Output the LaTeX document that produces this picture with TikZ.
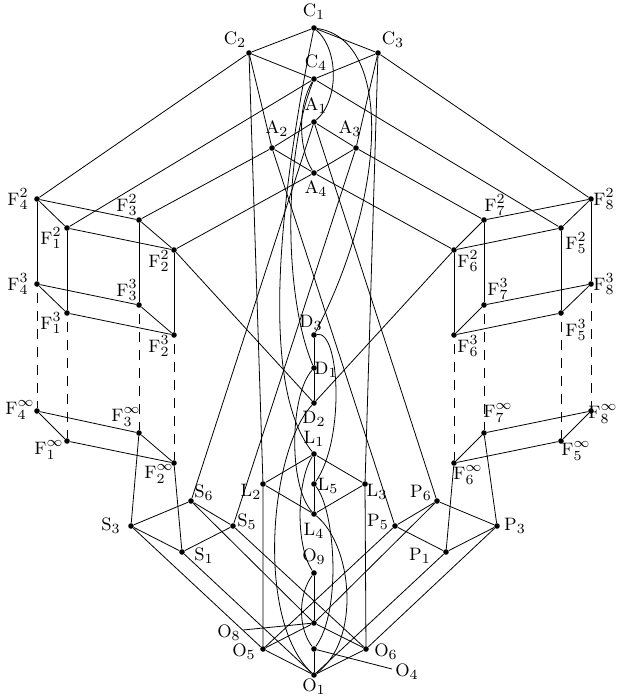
\documentclass[tikz,border=0pt]{standalone}
\begin{document}
\begin{tikzpicture}[x=0.5pt,y=-0.5pt,
  dot/.style={circle,fill,inner sep=0pt,minimum size=2.8pt},
  lbl/.style={inner sep=0pt,font=\fontsize{9.5}{11}\selectfont},
  ln/.style={line width=0.4pt},
  dsh/.style={line width=0.4pt,dash pattern=on 5pt off 4pt,dash phase=-3pt}]
\useasboundingbox (0,0) rectangle (616,696);
\newcommand\mypt[4]{\node[dot] (#1) at (#2) {}; \node[lbl] (l#1) at (#3) {#4};}
% top
\mypt{C1}{314,28}{314,12}{$\mathrm{C}_1$}
\mypt{C2}{249,53}{235,40}{$\mathrm{C}_2$}
\mypt{C3}{378,53}{393,40}{$\mathrm{C}_3$}
\mypt{C4}{314,79}{316,63}{$\mathrm{C}_4$}
\mypt{A1}{314,122}{316,106}{$\mathrm{A}_1$}
\mypt{A2}{272,148}{277,129}{$\mathrm{A}_2$}
\mypt{A3}{356,148}{350,129}{$\mathrm{A}_3$}
\mypt{A4}{314,173}{316,189}{$\mathrm{A}_4$}
% left cube
\mypt{F42}{37,199}{18,199}{$\mathrm{F}^2_4$}
\mypt{F12}{67,228}{51,238}{$\mathrm{F}^2_1$}
\mypt{F32}{139,220}{127,205}{$\mathrm{F}^2_3$}
\mypt{F22}{174,250}{159,261}{$\mathrm{F}^2_2$}
\mypt{F43}{37,284}{18,284}{$\mathrm{F}^3_4$}
\mypt{F13}{67,313}{51,323}{$\mathrm{F}^3_1$}
\mypt{F33}{139,305}{127,290}{$\mathrm{F}^3_3$}
\mypt{F23}{174,335}{159,346}{$\mathrm{F}^3_2$}
\mypt{F4i}{37,411}{20,410}{$\mathrm{F}^\infty_4$}
\mypt{F1i}{67,441}{49,450}{$\mathrm{F}^\infty_1$}
\mypt{F3i}{139,433}{126,417}{$\mathrm{F}^\infty_3$}
\mypt{F2i}{174,463}{159,474}{$\mathrm{F}^\infty_2$}
% right cube
\mypt{F82}{591,199}{604,199}{$\mathrm{F}^2_8$}
\mypt{F52}{561,228}{576,243}{$\mathrm{F}^2_5$}
\mypt{F72}{484,220}{495,205}{$\mathrm{F}^2_7$}
\mypt{F62}{454,250}{468,261}{$\mathrm{F}^2_6$}
\mypt{F83}{591,284}{604,284}{$\mathrm{F}^3_8$}
\mypt{F53}{561,313}{576,330}{$\mathrm{F}^3_5$}
\mypt{F73}{484,305}{498,289}{$\mathrm{F}^3_7$}
\mypt{F63}{454,335}{468,346}{$\mathrm{F}^3_6$}
\mypt{F8i}{591,411}{603,414}{$\mathrm{F}^\infty_8$}
\mypt{F5i}{561,441}{576,451}{$\mathrm{F}^\infty_5$}
\mypt{F7i}{484,433}{498,413}{$\mathrm{F}^\infty_7$}
\mypt{F6i}{454,463}{468,475}{$\mathrm{F}^\infty_6$}
% middle
\mypt{D3}{314,335}{311,323}{$\mathrm{D}_3$}
\mypt{D1}{314,368}{326,370}{$\mathrm{D}_1$}
\mypt{D2}{314,403}{314,419}{$\mathrm{D}_2$}
\mypt{L1}{314,454}{314,439}{$\mathrm{L}_1$}
\mypt{L2}{263,484}{251,492}{$\mathrm{L}_2$}
\mypt{L3}{365,484}{377,492}{$\mathrm{L}_3$}
\mypt{L5}{314,484}{328,486}{$\mathrm{L}_5$}
\mypt{L4}{314,514}{314,531}{$\mathrm{L}_4$}
\mypt{S6}{191,501}{204,493}{$\mathrm{S}_6$}
\mypt{S3}{131,526}{111,526}{$\mathrm{S}_3$}
\mypt{S5}{233,526}{247,522}{$\mathrm{S}_5$}
\mypt{S1}{182,552}{204,556}{$\mathrm{S}_1$}
\mypt{P6}{437,501}{421,493}{$\mathrm{P}_6$}
\mypt{P3}{497,526}{515,526}{$\mathrm{P}_3$}
\mypt{P5}{395,526}{378,522}{$\mathrm{P}_5$}
\mypt{P1}{446,552}{420,556}{$\mathrm{P}_1$}
\mypt{O9}{314,573}{314,557}{$\mathrm{O}_9$}
\node[dot] (O8) at (314,623) {};
\node[dot] (O4) at (314,649) {};
\mypt{O5}{263,649}{244,652}{$\mathrm{O}_5$}
\mypt{O6}{366,649}{386,652}{$\mathrm{O}_6$}
\mypt{O1}{314,675}{314,687}{$\mathrm{O}_1$}
\node[lbl] (lO8) at (229,633) {$\mathrm{O}_8$};
\node[lbl] (lO4) at (407,672) {$\mathrm{O}_4$};
\coordinate (eO8) at (243,630);
\coordinate (eO4) at (392,669);
\draw[ln] (eO8) -- (O8);
\draw[ln] (eO4) -- (O4);

% C and A cube
\draw[ln] (C2) -- (C1) -- (C3) -- (C4) -- (C2);
\draw[ln] (A2) -- (A1) -- (A3) -- (A4) -- (A2);
\draw[ln] (C2) -- (A2);
\draw[ln] (C3) -- (A3);
\draw[ln] (C1) .. controls (339,50) and (339,100) .. (A1);
\draw[ln] (C4) .. controls (298,105) and (298,148) .. (A4);
% long curves from the top
\draw[ln] (C1) .. controls (395,40) and (385,200) .. (D3);
\draw[ln] (C1) .. controls (285,170) and (255,380) .. (L1);
\draw[ln] (C4) .. controls (282,160) and (285,300) .. (D1);
% to cubes
\draw[ln] (C2) -- (F42); \draw[ln] (C4) -- (F12); \draw[ln] (A2) -- (F32); \draw[ln] (A4) -- (F22);
\draw[ln] (C3) -- (F82); \draw[ln] (C4) -- (F52); \draw[ln] (A3) -- (F72); \draw[ln] (A4) -- (F62);
% cubes
\foreach \a/\b/\c/\d in {F42/F12/F32/F22,F43/F13/F33/F23,F4i/F1i/F3i/F2i,F82/F52/F72/F62,F83/F53/F73/F63,F8i/F5i/F7i/F6i}
  {\draw[ln] (\a) -- (\b) -- (\d) -- (\c) -- (\a);}
\foreach \k in {4,1,3,2,8,5,7,6}
  {\draw[ln] (F\k2) -- (F\k3); \draw[dsh] (F\k3) -- (F\k i);}
% cubes to S and P
\draw[ln] (F3i) -- (S3); \draw[ln] (F2i) -- (S1);
\draw[ln] (F7i) -- (P3); \draw[ln] (F6i) -- (P1);
\draw[ln] (S3) -- (S6) -- (S5) -- (S1) -- (S3);
\draw[ln] (P3) -- (P6) -- (P5) -- (P1) -- (P3);
\draw[ln] (S6) -- (A1); \draw[ln] (P6) -- (A1);
\draw[ln] (S5) -- (A3); \draw[ln] (P5) -- (A2);
% D
\draw[ln] (F22) -- (D2); \draw[ln] (F62) -- (D2);
\draw[ln] (D3) -- (D1) -- (D2);
\draw[ln] (D3) .. controls (340,330) and (345,440) .. (L5);
\draw[ln] (D1) .. controls (290,395) and (288,485) .. (L4);
\draw[ln] (D2) .. controls (270,450) and (255,620) .. (O1);
% L
\draw[ln] (L1) -- (L2) -- (L4) -- (L3) -- (L1);
\draw[ln] (L1) -- (L5) -- (L4);
\draw[ln] (C2) -- (L2) -- (O5);
\draw[ln] (C3) -- (L3) -- (O6);
\draw[ln] (L1) .. controls (297,480) and (295,545) .. (O9);
\draw[ln] (L5) .. controls (335,510) and (342,610) .. (O4);
\draw[ln] (L4) .. controls (352,545) and (362,640) .. (O1);
% O
\draw[ln] (O5) -- (O8) -- (O6) -- (O1) -- (O5);
\draw[ln] (O9) -- (O8);
\draw[ln] (O4) -- (O1);
\draw[ln] (O9) .. controls (298,595) and (298,628) .. (O4);
\draw[ln] (S3) -- (O5); \draw[ln] (S1) -- (O1); \draw[ln] (S5) -- (O6); \draw[ln] (S6) -- (O8);
\draw[ln] (P3) -- (O6); \draw[ln] (P1) -- (O1); \draw[ln] (P5) -- (O5); \draw[ln] (P6) -- (O8);
\end{tikzpicture}
\end{document}
